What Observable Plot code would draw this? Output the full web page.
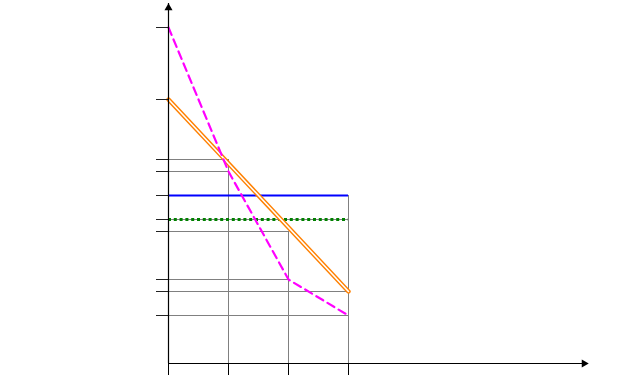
<!DOCTYPE html>
<html>
<head>
<meta charset="utf-8">
<script src="https://cdn.jsdelivr.net/npm/d3@7"></script>
<script src="https://cdn.jsdelivr.net/npm/@observablehq/plot@0.6"></script>
<style>
  html, body { margin: 0; padding: 0; background: #fff; }
  #chart svg { display: block; }
</style>
</head>
<body>
<div id="chart"></div>
<script>
// ---- data ----
const xTicks = [0, 1, 2, 3];
const yTicks = [28, 22, 17, 16, 14, 12, 11, 7, 6, 4];

// dashed magenta curve
const magentaX = [0, 1, 2, 3];
const magentaY = [28, 16, 7, 4];

// double orange straight line (end points)
const orangeX = [0, 3];
const orangeY = [22, 6];

// horizontal levels
const blueLevel = 14;
const greenLevel = 12;
const levelSpan = [0, 3];

// guide lines: horizontal (from axis to x) and vertical (from axis up to y)
const hGuideY = [17, 16, 14, 12, 11, 7, 6, 4];
const hGuideX = [1, 1, 3, 3, 2, 2, 3, 3];
const vGuideX = [1, 2, 3];
const vGuideY = [17, 11, 14];

// axis extents (arrow tips)
const xMax = 7;
const yMax = 30;

// ---- tables built from the arrays ----
const magenta = magentaX.map((x, i) => ({x, y: magentaY[i]}));
const orange = orangeX.map((x, i) => ({x, y: orangeY[i]}));
const hGuides = hGuideY.map((y, i) => ({y, x: hGuideX[i]}));
const vGuides = vGuideX.map((x, i) => ({x, y: vGuideY[i]}));

const chart = Plot.plot({
  width: 636,
  height: 375,
  marginLeft: 168,
  marginRight: 48,
  marginTop: 3,
  marginBottom: 12,
  x: {domain: [0, xMax], axis: null},
  y: {domain: [0, yMax], axis: null},
  style: {background: "#fff"},
  marks: [
    // guides
    Plot.ruleY(hGuides, {y: "y", x1: 0, x2: "x", stroke: "#808080", strokeWidth: 1}),
    Plot.ruleX(vGuides, {x: "x", y1: 0, y2: "y", stroke: "#808080", strokeWidth: 1}),
    // levels
    Plot.ruleY([blueLevel], {x1: levelSpan[0], x2: levelSpan[1], stroke: "#0000ff", strokeWidth: 2}),
    Plot.ruleY([greenLevel], {x1: levelSpan[0], x2: levelSpan[1], stroke: "#008000", strokeWidth: 2.8, strokeDasharray: "3,2.8"}),
    // double orange line
    Plot.line(orange, {x: "x", y: "y", stroke: "#ff8000", strokeWidth: 4.4}),
    Plot.line(orange, {x: "x", y: "y", stroke: "#fff", strokeWidth: 1.6}),
    // dashed magenta curve
    Plot.line(magenta, {x: "x", y: "y", stroke: "#ff00ff", strokeWidth: 2.2, strokeDasharray: "8,5"}),
    // axes
    Plot.axisY({ticks: yTicks, tickSize: 12, tickFormat: () => "", label: null, stroke: "#222"}),
    Plot.axisX({ticks: xTicks, tickSize: 12, tickFormat: () => "", label: null, stroke: "#000"}),
    Plot.ruleX([0], {stroke: "#000", strokeWidth: 1.2}),
    Plot.ruleY([0], {stroke: "#000", strokeWidth: 1.2}),
    Plot.dot([{x: 0, y: yMax}], {x: "x", y: "y", symbol: "triangle", r: 3, fill: "#000", stroke: null, dy: 4.4}),
    Plot.dot([{x: xMax, y: 0}], {x: "x", y: "y", symbol: "triangle", r: 3, fill: "#000", stroke: null, rotate: 90, dx: -4.4})
  ]
});
document.getElementById("chart").appendChild(chart);
</script>
</body>
</html>
